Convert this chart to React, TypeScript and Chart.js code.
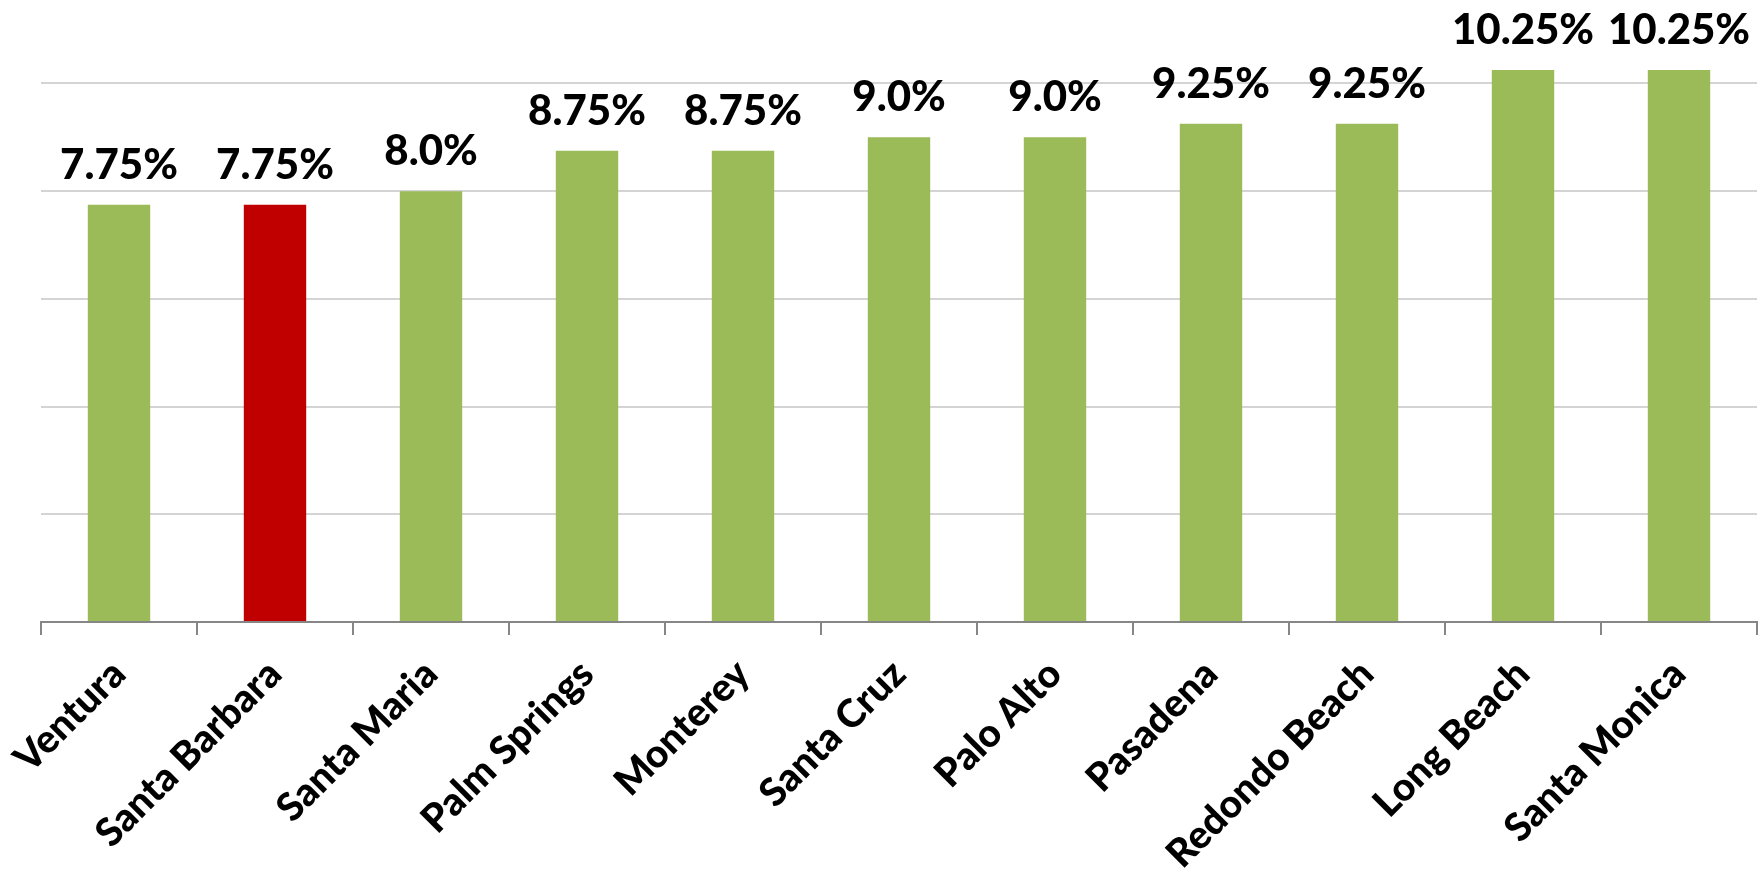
import React, { useEffect, useRef } from "react";
import { Chart, registerables } from "chart.js";

Chart.register(...registerables);

const cities = [
  "Ventura",
  "Santa Barbara",
  "Santa Maria",
  "Palm Springs",
  "Monterey",
  "Santa Cruz",
  "Palo Alto",
  "Pasadena",
  "Redondo Beach",
  "Long Beach",
  "Santa Monica",
];

const taxRates = [7.75, 7.75, 8.0, 8.75, 8.75, 9.0, 9.0, 9.25, 9.25, 10.25, 10.25];

const highlightCity = "Santa Barbara";

const GREEN = "#9BBB59";
const RED = "#C00000";

const fmt = (v: number) => (Math.round(v * 10) === v * 10 ? v.toFixed(1) : v.toFixed(2)) + "%";

const valueLabels = {
  id: "valueLabels",
  afterDatasetsDraw(chart: any) {
    const { ctx } = chart;
    const meta = chart.getDatasetMeta(0);
    ctx.save();
    ctx.font = "900 42px Lato";
    ctx.fillStyle = "#000";
    ctx.textAlign = "center";
    ctx.textBaseline = "alphabetic";
    meta.data.forEach((bar: any, i: number) => {
      ctx.fillText(fmt(taxRates[i]), bar.x, bar.y - 26);
    });
    ctx.restore();
  },
};

export default function App() {
  const ref = useRef<HTMLCanvasElement>(null);
  useEffect(() => {
    if (!ref.current) return;
    const chart = new Chart(ref.current, {
      type: "bar",
      data: {
        labels: cities,
        datasets: [
          {
            data: taxRates,
            backgroundColor: cities.map((c) => (c === highlightCity ? RED : GREEN)),
            barPercentage: 0.4,
            categoryPercentage: 1,
          },
        ],
      },
      options: {
        animation: false,
        responsive: true,
        maintainAspectRatio: false,
        layout: { padding: { left: 41, right: 6, top: 0, bottom: 0 } },
        plugins: { legend: { display: false }, tooltip: { enabled: false } },
        scales: {
          x: {
            afterFit: (s: any) => {
              s.height = 253;
            },
            grid: {
              drawOnChartArea: false,
              drawTicks: true,
              tickLength: 13,
              color: "#868686",
              lineWidth: 2,
            },
            border: { display: true, color: "#868686", width: 2 },
            ticks: {
              minRotation: 45,
              maxRotation: 45,
              autoSkip: false,
              padding: 16,
              color: "#000",
              font: { family: "Lato", weight: "900", size: 39 },
            },
          },
          y: {
            min: 0,
            max: 11.55,
            afterFit: (s: any) => {
              s.width = 0;
            },
            border: { display: false },
            grid: { color: "#D4D4D4", lineWidth: 2, drawTicks: false },
            ticks: { display: false, stepSize: 2, includeBounds: false },
          },
        },
      },
      plugins: [valueLabels],
    });
    return () => chart.destroy();
  }, []);
  return (
    <div style={{ position: "absolute", left: 0, top: 0, width: 1763, height: 875, background: "#fff" }}>
      <canvas ref={ref} />
    </div>
  );
}
